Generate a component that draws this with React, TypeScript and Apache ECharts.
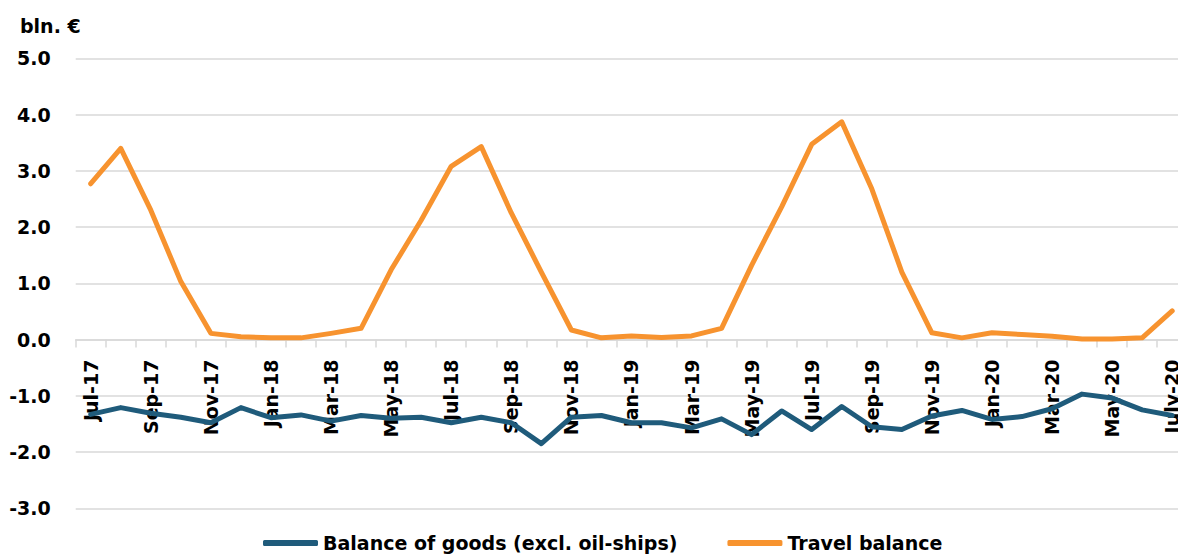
import React, { useEffect, useRef } from "react";
import * as echarts from "echarts";

const months: string[] = [
  "Jul-17", "Aug-17", "Sep-17", "Oct-17", "Nov-17", "Dec-17",
  "Jan-18", "Feb-18", "Mar-18", "Apr-18", "May-18", "Jun-18",
  "Jul-18", "Aug-18", "Sep-18", "Oct-18", "Nov-18", "Dec-18",
  "Jan-19", "Feb-19", "Mar-19", "Apr-19", "May-19", "Jun-19",
  "Jul-19", "Aug-19", "Sep-19", "Oct-19", "Nov-19", "Dec-19",
  "Jan-20", "Feb-20", "Mar-20", "Apr-20", "May-20", "Jun-20",
  "July-20",
];

const goodsBalance: number[] = [
  -1.33, -1.21, -1.31, -1.38, -1.48, -1.21,
  -1.39, -1.34, -1.45, -1.35, -1.40, -1.38,
  -1.48, -1.38, -1.48, -1.85, -1.38, -1.35,
  -1.48, -1.48, -1.57, -1.41, -1.69, -1.27,
  -1.60, -1.19, -1.55, -1.60, -1.36, -1.26,
  -1.42, -1.37, -1.23, -0.97, -1.04, -1.25,
  -1.35,
];

const travelBalance: number[] = [
  2.77, 3.40, 2.30, 1.03, 0.11, 0.05,
  0.03, 0.03, 0.11, 0.20, 1.24, 2.12,
  3.08, 3.43, 2.25, 1.20, 0.17, 0.03,
  0.065, 0.035, 0.065, 0.20, 1.32, 2.36,
  3.47, 3.87, 2.68, 1.20, 0.12, 0.03,
  0.12, 0.09, 0.06, 0.01, 0.01, 0.03,
  0.51,
];

const seriesNames: string[] = ["Balance of goods (excl. oil-ships)", "Travel balance"];
const unitLabel = "bln. €";

const FONT = "'DejaVu Sans', sans-serif";
const Y_MIN = -3;
const Y_MAX = 5;
const GRID_TOP = 58.3;
const GRID_HEIGHT = 450;

export default function App() {
  const ref = useRef<HTMLDivElement>(null);

  useEffect(() => {
    if (!ref.current) return;
    const chart = echarts.init(ref.current, undefined, { renderer: "svg" });
    // distance from the zero line to the grid bottom, so the category axis sits on zero
    const zeroOffset = -(GRID_HEIGHT * (0 - Y_MIN)) / (Y_MAX - Y_MIN);
    chart.setOption({
      animation: false,
      backgroundColor: "#ffffff",
      textStyle: { fontFamily: FONT },
      graphic: [
        {
          type: "text",
          left: 20,
          top: 16,
          style: {
            text: unitLabel,
            font: `bold 19px ${FONT}`,
            fill: "#000000",
          },
        },
      ],
      legend: {
        left: 263,
        top: 533,
        padding: 0,
        itemGap: 50,
        itemWidth: 55,
        itemHeight: 6,
        icon: "roundRect",
        data: seriesNames,
        textStyle: {
          fontFamily: FONT,
          fontWeight: "bold",
          fontSize: 19,
          color: "#000000",
          lineHeight: 20,
        },
      },
      grid: {
        left: 75.7,
        top: GRID_TOP,
        width: 1111.5,
        height: GRID_HEIGHT,
        containLabel: false,
        outerBoundsMode: "none",
      },
      xAxis: {
        type: "category",
        data: months,
        boundaryGap: true,
        position: "bottom",
        offset: zeroOffset,
        axisLine: { onZero: false, lineStyle: { color: "#d9d9d9", width: 1.5 } },
        axisTick: {
          show: true,
          interval: 0,
          length: 8,
          lineStyle: { color: "#d9d9d9", width: 1.5 },
        },
        axisLabel: {
          interval: 1,
          rotate: 90,
          margin: 20,
          fontFamily: FONT,
          fontWeight: "bold",
          fontSize: 19,
          color: "#000000",
        },
        splitLine: { show: false },
      },
      yAxis: {
        type: "value",
        min: Y_MIN,
        max: Y_MAX,
        interval: 1,
        axisLine: { show: false },
        axisTick: { show: false },
        axisLabel: {
          margin: 25,
          fontFamily: FONT,
          fontWeight: "bold",
          fontSize: 19,
          color: "#000000",
          formatter: (v: number) => v.toFixed(1),
        },
        splitLine: { lineStyle: { color: "#d9d9d9", width: 1.5 } },
      },
      series: [
        {
          name: seriesNames[0],
          type: "line",
          data: goodsBalance,
          symbol: "none",
          color: "#1F5B7B",
          lineStyle: { color: "#1F5B7B", width: 5, cap: "round", join: "round" },
          z: 3,
        },
        {
          name: seriesNames[1],
          type: "line",
          data: travelBalance,
          symbol: "none",
          color: "#F7932F",
          lineStyle: { color: "#F7932F", width: 5, cap: "round", join: "round" },
          z: 3,
        },
      ],
    });
    return () => chart.dispose();
  }, []);

  return (
    <div
      ref={ref}
      style={{ position: "absolute", left: 0, top: 0, width: 1178, height: 555 }}
    />
  );
}
